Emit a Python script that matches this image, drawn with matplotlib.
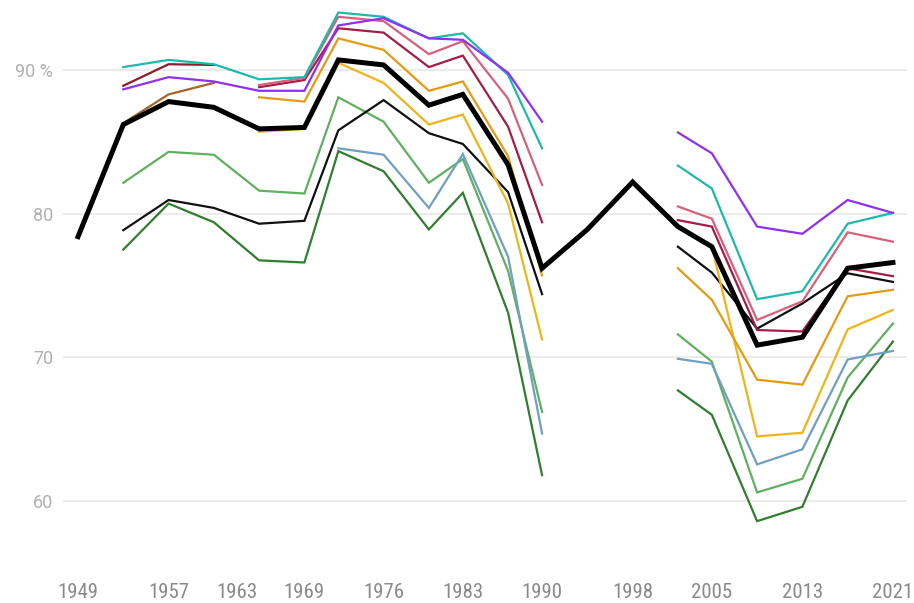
import numpy as np
import matplotlib
matplotlib.use('Agg')
import matplotlib.pyplot as plt
from matplotlib import font_manager

nan = np.nan

# election years (x axis is linear in time)
years = [1949, 1953, 1957, 1961, 1965, 1969, 1972, 1976, 1980, 1983,
         1987, 1990, 1994, 1998, 2002, 2005, 2009, 2013, 2017, 2021]

# turnout in %; nan = no value for that election
total = [78.4, 86.2, 87.8, 87.4, 85.9, 86.0, 90.7, 90.35, 87.55, 88.3,
         83.4, 76.2, 78.9, 82.2, 79.1, 77.7, 70.85, 71.4, 76.2, 76.6]
teal = [nan, 90.2, 90.7, 90.4, 89.35, 89.5, 94.0, 93.7, 92.2, 92.55,
        89.65, 84.55, nan, nan, 83.35, 81.75, 74.05, 74.6, 79.3, 80.05]
purple = [nan, 88.65, 89.5, 89.2, 88.55, 88.55, 93.1, 93.6, 92.2, 92.1,
          89.8, 86.4, nan, nan, 85.65, 84.2, 79.1, 78.6, 80.95, 80.05]
darkred = [nan, 88.9, 90.4, 90.35, nan, nan, nan, nan, nan, nan,
           nan, nan, nan, nan, nan, nan, nan, nan, nan, nan]
pink = [nan, nan, nan, nan, 88.95, 89.45, 93.7, 93.4, 91.1, 92.0,
        88.0, 82.0, nan, nan, 80.5, 79.65, 72.6, 73.9, 78.7, 78.05]
crimson = [nan, nan, nan, nan, 88.8, 89.3, 92.9, 92.6, 90.2, 91.0,
           86.05, 79.4, nan, nan, 79.55, 79.1, 71.9, 71.8, 76.2, 75.65]
brown = [nan, 86.3, 88.3, 89.1, nan, nan, nan, nan, nan, nan,
         nan, nan, nan, nan, nan, nan, nan, nan, nan, nan]
orange = [nan, nan, nan, nan, 88.1, 87.8, 92.2, 91.4, 88.55, 89.2,
          84.0, 75.7, nan, nan, 76.2, 74.0, 68.45, 68.1, 74.25, 74.7]
gold = [nan, nan, nan, nan, 85.7, 85.9, 90.5, 89.1, 86.2, 86.9,
        80.7, 71.25, nan, nan, 79.1, 77.7, 64.5, 64.75, 71.95, 73.3]
oldest = [nan, 78.85, 80.95, 80.4, 79.3, 79.5, 85.8, 87.9, 85.6, 84.85,
          81.5, 74.4, nan, nan, 77.7, 75.9, 72.0, 73.75, 75.85, 75.25]
lightgreen = [nan, 82.15, 84.3, 84.1, 81.6, 81.4, 88.1, 86.4, 82.15, 83.8,
              76.0, 66.2, nan, nan, 71.6, 69.7, 60.6, 61.55, 68.6, 72.35]
steelblue = [nan, nan, nan, nan, nan, nan, 84.55, 84.1, 80.4, 84.15,
             77.0, 64.7, nan, nan, 69.9, 69.55, 62.55, 63.6, 69.85, 70.45]
darkgreen = [nan, 77.5, 80.7, 79.4, 76.75, 76.6, 84.35, 82.95, 78.9, 81.45,
             73.1, 61.8, nan, nan, 67.7, 66.0, 58.6, 59.6, 67.0, 71.1]

xticks = [1949, 1957, 1963, 1969, 1976, 1983, 1990, 1998, 2005, 2013, 2021]
yticks = [60, 70, 80, 90]
ylabels = ['60', '70', '80', '90 %']

installed = {f.name for f in font_manager.fontManager.ttflist}
narrow = 'Roboto'
for cand in ['Roboto Condensed', 'Liberation Sans Narrow']:
    if cand in installed:
        narrow = cand
        break

fig = plt.figure(figsize=(9.14, 6.03), dpi=100)
ax = fig.add_axes([0.0689, 0.0857, 0.9234, 0.9055])

thin = [
    (darkgreen, '#2f7f2f'),
    (lightgreen, '#5fb05f'),
    (steelblue, '#6f9fc2'),
    (oldest, '#111111'),
    (gold, '#f0b419'),
    (orange, '#e69a10'),
    (brown, '#a8632a'),
    (darkred, '#8e1b2e'),
    (crimson, '#a51d45'),
    (pink, '#d9607a'),
    (teal, '#1db9ac'),
    (purple, '#9030f0'),
]
for vals, col in thin:
    ax.plot(years, np.array(vals, dtype=float), color=col, lw=1.6,
            solid_joinstyle='miter', zorder=3)

ax.plot(years, total, color='black', lw=3.6, solid_joinstyle='miter', zorder=4)

ax.set_xlim(1947.67, 2022.24)
ax.set_ylim(56.5, 94.5)
ax.set_xticks(xticks)
ax.set_xticklabels([str(t) for t in xticks], family=narrow, fontsize=15, color='#8a8a8a')
ax.set_yticks(yticks)
ax.set_yticklabels(ylabels, family='Roboto', fontsize=13, color='#b0b0b0')
ax.tick_params(axis='both', length=0)
ax.tick_params(axis='x', pad=23)
ax.tick_params(axis='y', pad=7)
ax.grid(axis='y', color='#e8e8e8', lw=1.2, zorder=0)
for s in ax.spines.values():
    s.set_visible(False)

fig.savefig('out.png', dpi=100)
